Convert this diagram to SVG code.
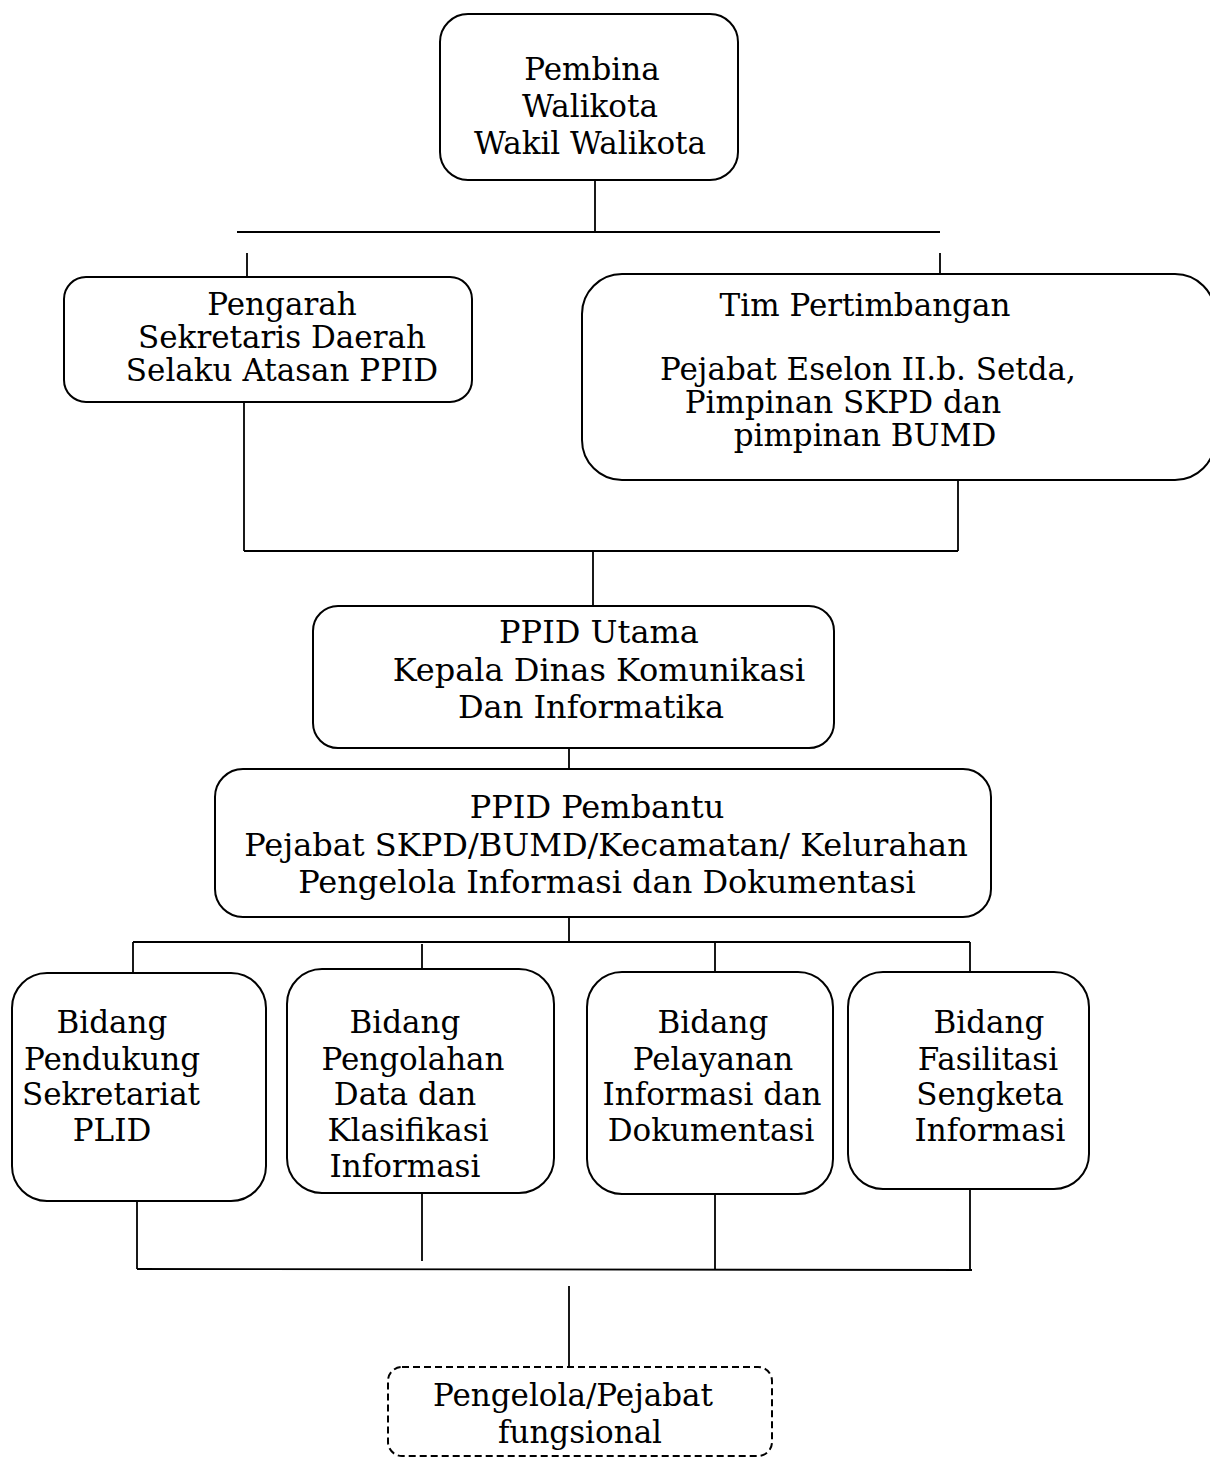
<svg xmlns="http://www.w3.org/2000/svg" width="1210" height="1457" viewBox="0 0 1210 1457">
<style>
.box{fill:#fff;stroke:#000;stroke-width:2}
.dash{fill:#fff;stroke:#000;stroke-width:2;stroke-dasharray:7 4}
.ln{stroke:#000;stroke-width:1.8;fill:none}
text{font-family:"DejaVu Serif","Liberation Serif",serif;font-size:31px;fill:#000;text-anchor:middle}
.big{font-size:32px}
</style>
<rect width="1210" height="1457" fill="#fff"/>
<g id="connectors">
<line class="ln" x1="595" y1="180" x2="595" y2="232"/>
<line class="ln" x1="237" y1="232" x2="940" y2="232"/>
<line class="ln" x1="247" y1="253" x2="247" y2="277"/>
<line class="ln" x1="940" y1="253" x2="940" y2="274"/>
<line class="ln" x1="244" y1="402" x2="244" y2="551"/>
<line class="ln" x1="244" y1="551" x2="958" y2="551"/>
<line class="ln" x1="958" y1="480" x2="958" y2="551"/>
<line class="ln" x1="593" y1="551" x2="593" y2="606"/>
<line class="ln" x1="569" y1="748" x2="569" y2="769"/>
<line class="ln" x1="569" y1="917" x2="569" y2="942"/>
<line class="ln" x1="133" y1="942" x2="970" y2="942"/>
<line class="ln" x1="133" y1="942" x2="133" y2="973"/>
<line class="ln" x1="422" y1="944" x2="422" y2="969"/>
<line class="ln" x1="715" y1="942" x2="715" y2="972"/>
<line class="ln" x1="970" y1="942" x2="970" y2="972"/>
<line class="ln" x1="137" y1="1201" x2="137" y2="1269"/>
<line class="ln" x1="422" y1="1193" x2="422" y2="1261"/>
<line class="ln" x1="715" y1="1194" x2="715" y2="1269"/>
<line class="ln" x1="970" y1="1189" x2="970" y2="1271"/>
<line class="ln" x1="137" y1="1269" x2="972" y2="1270"/>
<line class="ln" x1="569" y1="1286" x2="569" y2="1367"/>
</g>
<g id="pembina">
<rect class="box" x="440" y="14" width="298" height="166" rx="28"/>
<text x="592" y="80">Pembina</text>
<text x="590" y="117">Walikota</text>
<text x="590" y="154">Wakil Walikota</text>
</g>
<g id="pengarah">
<rect class="box" x="64" y="277" width="408" height="125" rx="22"/>
<text x="282" y="315">Pengarah</text>
<text x="282" y="348">Sekretaris Daerah</text>
<text x="282" y="381">Selaku Atasan PPID</text>
</g>
<g id="tim">
<rect class="box" x="582" y="274" width="633" height="206" rx="40"/>
<text x="865" y="316">Tim Pertimbangan</text>
<text x="868" y="380">Pejabat Eselon II.b. Setda,</text>
<text x="843" y="413">Pimpinan SKPD dan</text>
<text x="865" y="446">pimpinan BUMD</text>
</g>
<g id="ppid-utama">
<rect class="box" x="313" y="606" width="521" height="142" rx="25"/>
<text class="big" x="599" y="643">PPID Utama</text>
<text class="big" x="599" y="681">Kepala Dinas Komunikasi</text>
<text class="big" x="591" y="718">Dan Informatika</text>
</g>
<g id="ppid-pembantu">
<rect class="box" x="215" y="769" width="776" height="148" rx="28"/>
<text class="big" x="597" y="818">PPID Pembantu</text>
<text class="big" x="606" y="856">Pejabat SKPD/BUMD/Kecamatan/ Kelurahan</text>
<text class="big" x="607" y="893">Pengelola Informasi dan Dokumentasi</text>
</g>
<g id="bidang1">
<rect class="box" x="12" y="973" width="254" height="228" rx="35"/>
<text x="112" y="1033">Bidang</text>
<text x="112" y="1070">Pendukung</text>
<text x="111" y="1105">Sekretariat</text>
<text x="112" y="1141">PLID</text>
</g>
<g id="bidang2">
<rect class="box" x="287" y="969" width="267" height="224" rx="35"/>
<text x="405" y="1033">Bidang</text>
<text x="413" y="1070">Pengolahan</text>
<text x="405" y="1105">Data dan</text>
<text x="408" y="1141">Klasifikasi</text>
<text x="405" y="1177">Informasi</text>
</g>
<g id="bidang3">
<rect class="box" x="587" y="972" width="246" height="222" rx="35"/>
<text x="713" y="1033">Bidang</text>
<text x="713" y="1070">Pelayanan</text>
<text x="712" y="1105">Informasi dan</text>
<text x="711" y="1141">Dokumentasi</text>
</g>
<g id="bidang4">
<rect class="box" x="848" y="972" width="241" height="217" rx="35"/>
<text x="989" y="1033">Bidang</text>
<text x="988" y="1070">Fasilitasi</text>
<text x="990" y="1105">Sengketa</text>
<text x="990" y="1141">Informasi</text>
</g>
<g id="pengelola">
<rect class="dash" x="388" y="1367" width="384" height="89" rx="14"/>
<text x="573" y="1406">Pengelola/Pejabat</text>
<text x="580" y="1443">fungsional</text>
</g>
</svg>
